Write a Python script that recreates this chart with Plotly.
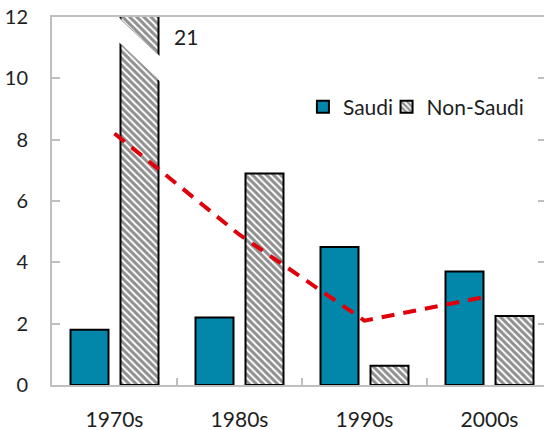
import plotly.graph_objects as go

# ---- data ----
categories = ["1970s", "1980s", "1990s", "2000s"]
saudi = [1.8, 2.2, 4.5, 3.7]
non_saudi = [21, 6.9, 0.63, 2.25]
trend = [8.2, 4.9, 2.1, 2.9]
y_ticks = [0, 2, 4, 6, 8, 10, 12]
break_label = "21"

# ---- style ----
TEAL = "#0287AB"
RED = "#E0000B"
AXIS = "#BFBFBF"
TXT = "#1E1E1E"
FONT = "Lato"
Y_MAX = 12
X_RANGE = [-0.5, 3.436]
span = X_RANGE[1] - X_RANGE[0]


def xp(idx):
    return (idx - X_RANGE[0]) / span


fig = go.Figure()
fig.add_bar(
    name="Saudi", x=categories, y=saudi,
    marker=dict(color=TEAL, line=dict(color="black", width=2)),
    legend="legend",
)
fig.add_bar(
    name="Non-Saudi", x=categories, y=non_saudi,
    marker=dict(color="white",
                pattern=dict(shape="\\", fgcolor="#1f1f1f", bgcolor="white", size=5, solidity=0.6),
                line=dict(color="black", width=2)),
    legend="legend2",
)
fig.add_scatter(
    x=categories, y=trend, mode="lines", showlegend=False,
    line=dict(color=RED, width=4, dash="13px,9px"),
)
# invisible trace to anchor right axis ticks
fig.add_scatter(x=[categories[0]], y=[0], yaxis="y2", mode="markers",
                marker=dict(opacity=0), showlegend=False, hoverinfo="skip")

# axis break on the tall bar
bx0, bx1 = 0.004, 0.364
up0, up1 = 12.10, 10.72
lo0, lo1 = 11.30, 9.90
fig.add_shape(type="path", xref="paper", yref="y",
              path=f"M{xp(bx0)},{up0} L{xp(bx1)},{up1} L{xp(bx1)},{lo1} L{xp(bx0)},{lo0} Z",
              fillcolor="white", line=dict(width=0), layer="above")
ex0, ex1 = 0.045, 0.345
for (a0, a1) in [(up0, up1), (lo0, lo1)]:
    s = (a1 - a0) / (bx1 - bx0)
    fig.add_shape(type="line", xref="paper", yref="y",
                  x0=xp(ex0), x1=xp(ex1),
                  y0=a0 + s * (ex0 - bx0), y1=a0 + s * (ex1 - bx0),
                  line=dict(color="#a0a0a0", width=1), layer="above")

fig.add_annotation(x=0.57, y=11.35, xref="x", yref="y", text=break_label,
                   showarrow=False, font=dict(family=FONT, size=21, color=TXT))

fig.update_layout(
    width=544, height=430,
    margin=dict(l=52, r=0, t=17, b=45),
    paper_bgcolor="white", plot_bgcolor="white",
    barmode="group", bargap=0.2, bargroupgap=0.24,
    font=dict(family=FONT, color=TXT),
    legend=dict(x=0.510, y=0.755, xanchor="left", yanchor="middle",
                bgcolor="rgba(0,0,0,0)", font=dict(size=21, family=FONT, color=TXT)),
    legend2=dict(x=0.680, y=0.755, xanchor="left", yanchor="middle",
                 bgcolor="rgba(0,0,0,0)", font=dict(size=21, family=FONT, color=TXT)),
    xaxis=dict(type="category", range=X_RANGE, showline=True, linecolor=AXIS, linewidth=2,
               mirror=True, ticks="inside", tickson="boundaries", ticklen=7,
               tickcolor=AXIS, tickwidth=2, showgrid=False, automargin=False,
               tickfont=dict(family=FONT, size=21, color=TXT), ticklabelstandoff=15),
    yaxis=dict(range=[0, Y_MAX], tickvals=y_ticks, showline=True, linecolor=AXIS, linewidth=2,
               ticks="inside", ticklen=8, tickcolor=AXIS, tickwidth=2,
               showgrid=False, zeroline=False, automargin=False,
               tickfont=dict(family=FONT, size=20, color=TXT), ticklabelstandoff=18),
    yaxis2=dict(range=[0, Y_MAX], tickvals=y_ticks, overlaying="y", side="right",
                ticks="inside", ticklen=6, tickcolor=AXIS, tickwidth=2, automargin=False,
                showticklabels=False, showline=False, showgrid=False, zeroline=False),
    showlegend=True,
)

fig.write_html("out.html", config={"displayModeBar": False},
               post_script="document.body.style.margin='0';document.body.style.overflow='hidden';")
